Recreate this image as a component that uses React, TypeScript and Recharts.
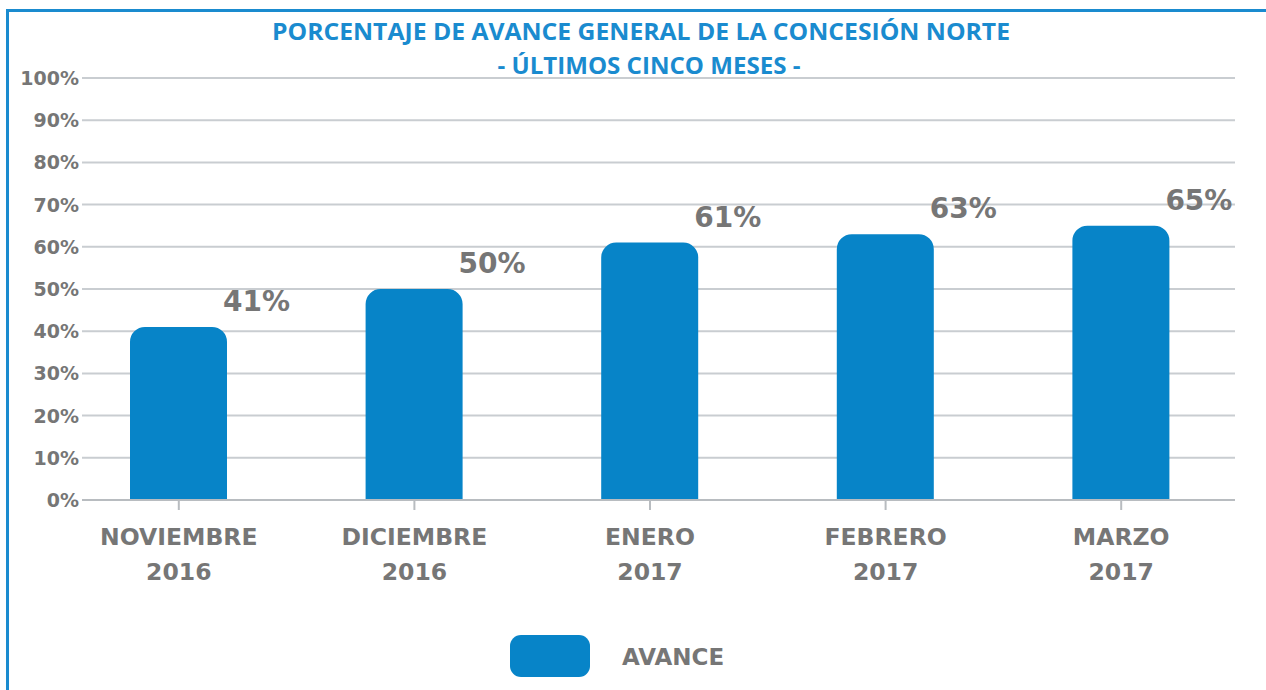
import React from "react";
import { BarChart, Bar, XAxis, YAxis, CartesianGrid, LabelList, Legend } from "recharts";

const months = ["NOVIEMBRE", "DICIEMBRE", "ENERO", "FEBRERO", "MARZO"];
const years = ["2016", "2016", "2017", "2017", "2017"];
const avance = [41, 50, 61, 63, 65];
const yTicks = [0, 10, 20, 30, 40, 50, 60, 70, 80, 90, 100];
const titleLine1 = "PORCENTAJE DE AVANCE GENERAL DE LA CONCESIÓN NORTE";
const titleLine2 = "- ÚLTIMOS CINCO MESES -";
const seriesName = "AVANCE";

const data = months.map((m, i) => ({ month: m, year: years[i], label: `${m}|${years[i]}`, avance: avance[i] }));

const BLUE = "#0784C8";
const TITLE_BLUE = "#1A8BCF";
const GRAY = "#767676";
const GRID = "#C9CDD1";
const FONT = "'DejaVu Sans', sans-serif";

const YTick = (props: any) => {
  const { x, y, payload } = props;
  return (
    <text x={x} y={y} dy={7} textAnchor="end" fontFamily={FONT} fontWeight={700} fontSize={19} fill={GRAY}>
      {`${payload.value}%`}
    </text>
  );
};

const XTick = (props: any) => {
  const { x, y, payload } = props;
  const [m, yr] = String(payload.value).split("|");
  return (
    <g>
      <text x={x} y={y} dy={35} textAnchor="middle" fontFamily={FONT} fontWeight={700} fontSize={23.5} fill={GRAY}>
        {m}
      </text>
      <text x={x} y={y} dy={70} textAnchor="middle" fontFamily={FONT} fontWeight={700} fontSize={23.5} fill={GRAY}>
        {yr}
      </text>
    </g>
  );
};

const ValueLabel = (props: any) => {
  const { x, y, width, value } = props;
  return (
    <text x={x + width / 2 + 78} y={y - 16} textAnchor="middle" fontFamily={FONT} fontWeight={700} fontSize={28} fill={GRAY}>
      {`${value}%`}
    </text>
  );
};

const LegendContent = () => (
  <div style={{ position: "relative", width: 1266, height: 60 }}>
    <div style={{ position: "absolute", left: 510, top: 5, width: 80, height: 42, borderRadius: 11, background: BLUE }} />
    <svg style={{ position: "absolute", left: 600, top: 0 }} width={200} height={60}>
      <text x={22} y={35} fontFamily={FONT} fontWeight={700} fontSize={23} fill={GRAY}>
        {seriesName}
      </text>
    </svg>
  </div>
);

export default function App() {
  return (
    <div style={{ position: "fixed", left: 0, top: 0, width: 1266, height: 690, overflow: "hidden", background: "#fff" }}>
      <div
        style={{
          position: "absolute",
          left: 6,
          top: 9,
          width: 1400,
          height: 800,
          borderTop: `3px solid ${TITLE_BLUE}`,
          borderLeft: `3px solid ${TITLE_BLUE}`,
        }}
      />
      <svg style={{ position: "absolute", left: 0, top: 0 }} width={1266} height={90}>
        <text x={641} y={40} textAnchor="middle" fontFamily="'Open Sans', sans-serif" fontWeight={700} fontSize={24} fill={TITLE_BLUE} textLength={738} lengthAdjust="spacingAndGlyphs">
          {titleLine1}
        </text>
        <text x={649} y={74} textAnchor="middle" fontFamily="'Open Sans', sans-serif" fontWeight={700} fontSize={24} fill={TITLE_BLUE} textLength={303} lengthAdjust="spacingAndGlyphs">
          {titleLine2}
        </text>
      </svg>
      <div style={{ position: "absolute", left: 0, top: 0 }}>
        <BarChart width={1266} height={690} data={data} margin={{ top: 78, right: 31, bottom: 0, left: 0 }}>
          <CartesianGrid vertical={false} stroke={GRID} strokeWidth={2} />
          <YAxis
            domain={[0, 100]}
            ticks={yTicks}
            width={82}
            tickSize={0}
            tickMargin={3}
            axisLine={false}
            tick={<YTick />}
            interval={0}
          />
          <XAxis
            dataKey="label"
            height={130}
            padding={{ left: -21, right: -4 }}
            tickSize={10}
            tickMargin={0}
            tickLine={{ stroke: "#B8BCC0", strokeWidth: 2 }}
            axisLine={{ stroke: "#B8BCC0", strokeWidth: 2 }}
            tick={<XTick />}
            interval={0}
          />
          <Legend verticalAlign="bottom" content={<LegendContent />} wrapperStyle={{ position: "absolute", left: 0, top: 630, width: 1266, height: 60 }} />
          <Bar dataKey="avance" name={seriesName} fill={BLUE} barSize={97} radius={[15, 15, 0, 0]} isAnimationActive={false}>
            <LabelList dataKey="avance" content={<ValueLabel />} />
          </Bar>
        </BarChart>
      </div>
    </div>
  );
}
